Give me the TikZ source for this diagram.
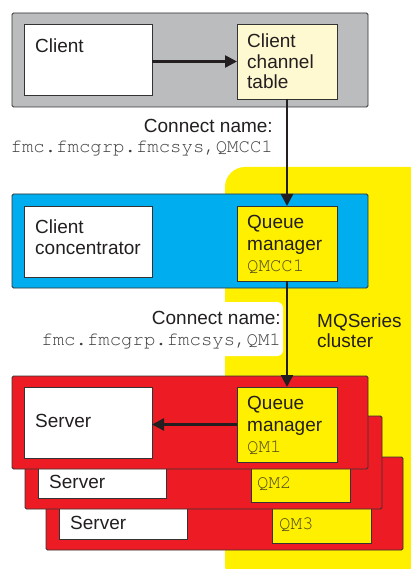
\documentclass[tikz,border=0pt]{standalone}
\usepackage{fontspec}
\setmainfont{Liberation Sans}
\setmonofont{TeX Gyre Cursor}
\usetikzlibrary{arrows.meta}
\definecolor{panelgray}{HTML}{BBBCBE}
\definecolor{tablecream}{HTML}{FFF9D1}
\definecolor{hubblue}{HTML}{00AEEF}
\definecolor{clusteryellow}{HTML}{FFF000}
\definecolor{serverred}{HTML}{ED1C24}
\definecolor{edgegray}{HTML}{333333}
\definecolor{inkblack}{HTML}{231F20}
\definecolor{monogray}{HTML}{3E3E3E}
\definecolor{monoolive}{HTML}{4E4A1A}
\begin{document}
\begin{tikzpicture}[x=1pt,y=-1pt,
  panel/.style={draw=edgegray, line width=0.9pt, rounded corners=1.5pt,
    anchor=north west, inner sep=0pt, outer sep=0pt},
  box/.style={draw=edgegray, line width=0.9pt, anchor=north west,
    inner sep=0pt, outer sep=0pt},
  txt/.style={anchor=base west, inner sep=0pt, text=inkblack,
    font=\fontsize{19}{21}\selectfont},
  mono/.style={anchor=base west, inner sep=0pt, text=monoolive,
    font=\fontsize{19}{21}\selectfont\ttfamily},
  flow/.style={line width=2.4pt, draw=inkblack,
    -{Triangle[length=12pt,width=12pt]}}
]
\useasboundingbox (0,0) rectangle (411,569);
\fill[white] (0,0) rectangle (411,569);

% cluster area behind the queue managers
\begin{scope}
  \clip (0,0) rectangle (411,569);
  \fill[clusteryellow, rounded corners=20pt] (225,167) rectangle (450,585);
\end{scope}

% backdrop of the second connect-name label
\fill[white, rounded corners=6pt] (30,302) rectangle (283,356);

% client machine
\node[panel, fill=panelgray, minimum width=356pt, minimum height=94pt] (clientsys) at (12,13) {};
\node[box, fill=white, minimum width=128pt, minimum height=71pt] (client) at (24,24) {};
\node[box, fill=tablecream, minimum width=100pt, minimum height=75pt] (table) at (237,24) {};
\node[txt] (tclient) at (35,53) {Client};
\node[txt] (ttab1) at (247,48) {Client};
\node[txt] (ttab2) at (247,69) {channel};
\node[txt] (ttab3) at (247,89) {table};

% client concentrator
\node[panel, fill=hubblue, minimum width=356pt, minimum height=94pt] (hub) at (12,194) {};
\node[box, fill=white, minimum width=128pt, minimum height=71pt] (conc) at (24,206) {};
\node[box, fill=clusteryellow, minimum width=100pt, minimum height=75pt] (qmcc) at (237,206) {};
\node[txt] (tconc1) at (35,233) {Client};
\node[txt] (tconc2) at (35,254) {concentrator};
\node[txt] (tqmcc1) at (247,228) {Queue};
\node[txt] (tqmcc2) at (247,250) {manager};
\node[mono] (tqmcc3) at (247,271) {QMCC1};

% third server
\node[panel, fill=serverred, minimum width=357pt, minimum height=93pt] (srvc) at (46,457) {};
\node[box, fill=white, minimum width=128pt, minimum height=71pt] (servc) at (59,468) {};
\node[box, fill=clusteryellow, minimum width=99pt, minimum height=75pt] (qmc) at (272,468) {};
\node[txt] (tservc) at (70,529) {Server};
\node[mono] (tqmc) at (279,529) {QM3};

% second server
\node[panel, fill=serverred, minimum width=357pt, minimum height=93pt] (srvb) at (25,416) {};
\node[box, fill=white, minimum width=128pt, minimum height=71pt] (servb) at (38,427) {};
\node[box, fill=clusteryellow, minimum width=99pt, minimum height=75pt] (qmb) at (251,427) {};
\node[txt] (tservb) at (49,488) {Server};
\node[mono] (tqmb) at (257,488) {QM2};

% first server
\node[panel, fill=serverred, minimum width=356pt, minimum height=93pt] (srva) at (12,376) {};
\node[box, fill=white, minimum width=128pt, minimum height=71pt] (serva) at (24,387) {};
\node[box, fill=clusteryellow, minimum width=100pt, minimum height=75pt] (qma) at (237,387) {};
\node[txt] (tserva) at (35,427) {Server};
\node[txt] (tqma1) at (247,409) {Queue};
\node[txt] (tqma2) at (247,431) {manager};
\node[mono] (tqma3) at (247,452) {QM1};

% connect names
\node[txt, anchor=base east] (cn1) at (273,133) {Connect name:};
\node[mono, anchor=base east, text=monogray] (cn1v) at (273,153) {fmc.fmcgrp.fmcsys,QMCC1};
\node[txt, anchor=base east] (cn2) at (281,324) {Connect name:};
\node[mono, anchor=base east, text=monogray] (cn2v) at (281,345) {fmc.fmcgrp.fmcsys,QM1};

% cluster caption
\node[txt] (mq1) at (317,327) {MQSeries};
\node[txt] (mq2) at (317,347) {cluster};

% connections
\draw[flow] (table.west -| client.east) -- (table.west);
\draw[flow] (table.south) -- (qmcc.north);
\draw[flow] (qmcc.south) -- (qma.north);
\draw[flow] (qma.west) -- (qma.west -| serva.east);
\end{tikzpicture}
\end{document}
